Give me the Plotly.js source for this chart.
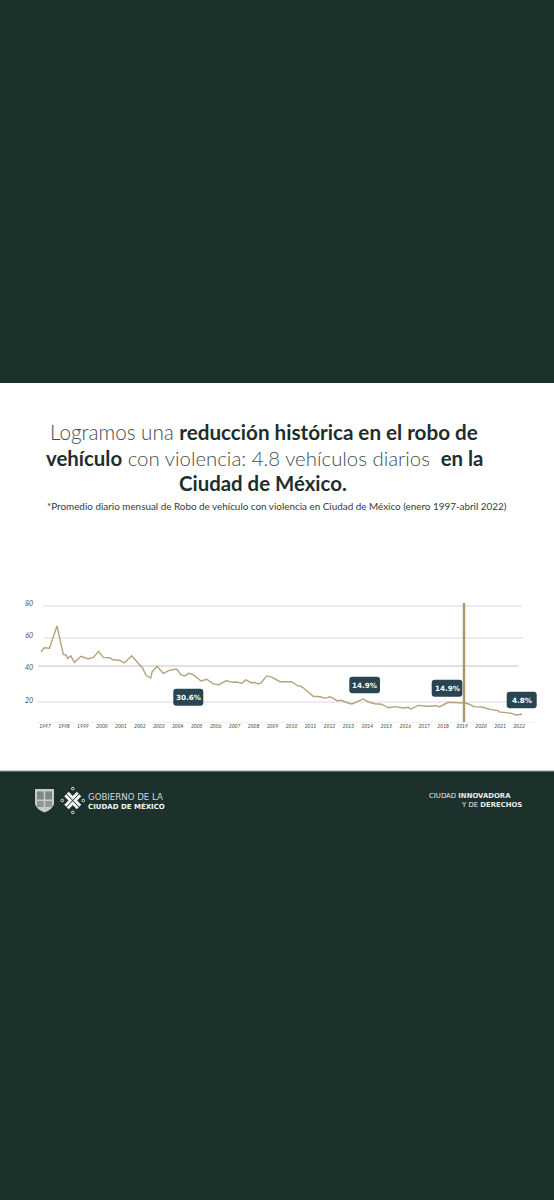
<!DOCTYPE html>
<html>
<head>
<meta charset="utf-8">
<script src="https://cdn.plot.ly/plotly-3.0.1.min.js"></script>
<style>html,body{margin:0;padding:0;background:#1c302c}</style>
</head>
<body>
<div id="chart" style="width:554px;height:1200px"></div>
<script>
// Data
const fecha = [1997.00,1997.16,1997.44,1997.84,1998.17,1998.31,1998.40,1998.56,1998.75,1999.10,1999.48,1999.75,2000.03,2000.27,2000.62,2000.76,2001.11,2001.37,2001.76,2002.34,2002.51,2002.76,2002.83,2003.09,2003.42,2003.73,2004.12,2004.36,2004.56,2004.73,2004.99,2005.40,2005.70,2006.04,2006.34,2006.71,2007.09,2007.27,2007.54,2007.75,2008.06,2008.20,2008.35,2008.53,2008.85,2009.11,2009.55,2010.16,2010.45,2010.60,2010.77,2011.29,2011.65,2011.91,2012.17,2012.55,2012.75,2013.22,2013.36,2013.92,2014.18,2014.53,2014.88,2015.23,2015.58,2016.02,2016.28,2016.41,2016.81,2017.25,2017.77,2017.91,2018.38,2018.82,2019.20,2019.43,2019.73,2020.13,2020.57,2021.00,2021.04,2021.71,2021.93,2022.25];
const promedio = [51.4,53.9,53.6,67.5,49.8,49.4,47.3,48.8,44.8,48.6,46.9,47.9,51.7,47.9,47.7,46.4,46.1,44.4,48.9,41.1,36.7,35.0,38.8,42.3,37.9,39.8,40.6,36.9,36.3,37.9,37.1,33.1,34.2,31.3,30.8,33.3,32.3,32.5,31.7,33.8,31.9,32.3,31.4,31.7,36.3,35.6,32.7,32.7,30.2,30.0,28.9,23.6,23.3,22.3,23.3,20.8,21.1,18.9,18.9,21.9,20.0,18.9,18.6,16.4,17.1,16.3,16.7,15.6,17.9,17.3,17.7,16.9,19.8,19.8,19.4,18.9,17.1,16.9,15.4,14.6,13.8,12.9,11.9,12.3];
const anios = ["1997","1998","1999","2000","2001","2002","2003","2004","2005","2006","2007","2008","2009","2010","2011","2012","2013","2014","2015","2016","2017","2018","2019","2020","2021","2022"];
const etiquetasY = ["80","60","40","20"];
const etiquetasPct = ["30.6%","14.9%","14.9%","4.8%"];

// Layout helpers (page pixels to Plotly coordinates)
const W = 554, H = 1200;
const px = x => x / W, py = y => 1 - y / H;
const tOf = x => 1997 + (x - 41) / 19.05;
const vOf = y => 20 + (702 - y) / 1.6;
const rrect = (x0, y0, x1, y1, r) =>
  `M${px(x0 + r)},${py(y0)} L${px(x1 - r)},${py(y0)} Q${px(x1)},${py(y0)} ${px(x1)},${py(y0 + r)} ` +
  `L${px(x1)},${py(y1 - r)} Q${px(x1)},${py(y1)} ${px(x1 - r)},${py(y1)} ` +
  `L${px(x0 + r)},${py(y1)} Q${px(x0)},${py(y1)} ${px(x0)},${py(y1 - r)} ` +
  `L${px(x0)},${py(y0 + r)} Q${px(x0)},${py(y0)} ${px(x0 + r)},${py(y0)} Z`;
const lineSeg = (a, b) => `M${px(a[0])},${py(a[1])} L${px(b[0])},${py(b[1])}`;
const paperShape = (path, fill, lineColor, width, layer) => ({
  type: 'path', xref: 'paper', yref: 'paper', path, fillcolor: fill || 'rgba(0,0,0,0)',
  line: { color: lineColor || 'rgba(0,0,0,0)', width: width || 0 }, layer: layer || 'above'
});

const TOP = 595, BOTTOM = 722, LEFT = 34, RIGHT = 540;
const DARK = '#1c302c';
const shapes = [];
// white panel
shapes.push({ type: 'rect', xref: 'paper', yref: 'paper', x0: 0, x1: 1, y0: py(771), y1: py(383), fillcolor: '#ffffff', line: { width: 0 }, layer: 'below' });
shapes.push({ type: 'rect', xref: 'paper', yref: 'paper', x0: 0, x1: 1, y0: py(771.5), y1: py(770.5), fillcolor: '#9aa3a1', line: { width: 0 }, layer: 'below' });
// gridlines
[[606, 43, 522, '#e6d3de'], [638, 44, 523, '#e6d3de'], [666, 38, 518, '#c8c0cc'], [702, 37, 510, '#e6d3de']].forEach(g => {
  shapes.push({ type: 'line', xref: 'paper', yref: 'paper', x0: px(g[1]), x1: px(g[2]), y0: py(g[0]), y1: py(g[0]), line: { color: g[3], width: 1 }, layer: 'below' });
});
// baseline
shapes.push({ type: 'line', xref: 'paper', yref: 'paper', x0: px(36), x1: px(536), y0: py(722.5), y1: py(722.5), line: { color: '#f1f1f1', width: 1 }, layer: 'below' });
// 2019 marker
shapes.push({ type: 'line', xref: 'x', yref: 'y', x0: tOf(464), x1: tOf(464), y0: vOf(603), y1: vOf(722.5), line: { color: '#ab9465', width: 2.4 }, layer: 'above' });

// label boxes
const cajas = [[173.3, 688.7, 203.3, 705.7], [349.3, 676.7, 380, 693.3], [431.7, 679.7, 462.3, 696.7], [506.7, 691.7, 536.7, 708.3]];
cajas.forEach(c => shapes.push(paperShape(rrect(c[0], c[1], c[2], c[3], 3), '#2a4552')));

// shield
shapes.push(paperShape(`M${px(35)},${py(789)} L${px(54)},${py(789)} L${px(54)},${py(804)} Q${px(53)},${py(809)} ${px(44.5)},${py(812.5)} Q${px(36)},${py(809)} ${px(35)},${py(804)} Z`, '#c6cbc9'));
shapes.push(paperShape(rrect(37, 791.5, 43.7, 799.5, 0.5), '#7d8886'));
shapes.push(paperShape(rrect(45.3, 791.5, 52, 799.5, 0.5), '#7d8886'));
shapes.push(paperShape(rrect(37, 801, 43.7, 807, 0.5), '#8e9896'));
shapes.push(paperShape(rrect(45.3, 801, 52, 807, 0.5), '#8e9896'));

// knot emblem
const k = (a, b, w, c) => shapes.push(paperShape(lineSeg(a, b), null, c, w));
k([66.5, 794], [79, 807], 6.2, '#f2f4f3');
k([79, 794], [66.5, 807], 6.2, '#f2f4f3');
k([66.5, 794], [79, 807], 1, DARK);
k([79, 794], [66.5, 807], 1, DARK);
[[72.8, 788.6], [72.8, 812.4], [62.3, 800.5], [83.3, 800.5]].forEach(d =>
  shapes.push({ type: 'circle', xref: 'paper', yref: 'paper', x0: px(d[0] - 1.3), x1: px(d[0] + 1.3), y0: py(d[1] + 1.3), y1: py(d[1] - 1.3), fillcolor: DARK, line: { color: '#f2f4f3', width: 0.9 } }));

// text
const txt = (x, y, text, size, color, anchor, family) => ({
  xref: 'paper', yref: 'paper', x: px(x), y: py(y), text, showarrow: false, xanchor: anchor || 'left', yanchor: 'middle',
  align: anchor || 'left', font: { family: family || 'Lato, sans-serif', size, color }
});
const TITLE = '#1d2f2d';
const lightT = t => `<span style="color:#444e4d;font-weight:300">${t}</span>`;
const FOOT = '"DejaVu Sans", sans-serif';
const annotations = [
  txt(263.5, 431.5, lightT('Logramos una ') + '<b>reducción histórica en el robo de</b>', 20.65, TITLE, 'center'),
  txt(264, 457.5, '<b>vehículo</b>' + lightT(' con violencia: 4.8 vehículos diarios ') + ' <b>en la</b>', 20.4, TITLE, 'center'),
  txt(263, 483.5, '<b>Ciudad de México.</b>', 20.4, TITLE, 'center'),
  txt(277, 505.5, '*Promedio diario mensual de Robo de vehículo con violencia en Ciudad de México (enero 1997-abril 2022)', 9.9, '#2f3d3b', 'center'),
  txt(85.5, 797, 'GOBIERNO DE LA', 8.6, '#d5dad9', 'left', FOOT),
  txt(85.5, 806.6, '<b>CIUDAD DE MÉXICO</b>', 7, '#f2f4f3', 'left', FOOT),
  txt(426.5, 795.8, 'CIUDAD <b>INNOVADORA</b>', 6.9, '#e8ecea', 'left', FOOT),
  txt(458.5, 805, 'Y DE <b>DERECHOS</b>', 6.9, '#e8ecea', 'left', FOOT)
];
cajas.forEach((c, i) => annotations.push(txt((c[0] + c[2]) / 2, (c[1] + c[3]) / 2, '<b>' + etiquetasPct[i] + '</b>', 7.2, '#ffffff', 'center', FOOT)));

const trace = {
  x: fecha, y: promedio, type: 'scatter', mode: 'lines',
  line: { color: '#b3a47e', width: 1.4 }, hoverinfo: 'skip', showlegend: false
};

const layout = {
  width: W, height: H, margin: { l: 0, r: 0, t: 0, b: 0 },
  paper_bgcolor: DARK, plot_bgcolor: 'rgba(0,0,0,0)', showlegend: false,
  xaxis: {
    domain: [px(LEFT), px(RIGHT)], range: [tOf(LEFT), tOf(RIGHT)], showgrid: false, zeroline: false, showline: false, ticks: '',
    tickmode: 'array', tickvals: anios.map((a, i) => tOf(45 + i * 18.96)), ticktext: anios, tickangle: 0,
    tickfont: { family: 'Lato, sans-serif', size: 5, color: '#444', style: 'italic' }, anchor: 'y'
  },
  yaxis: {
    domain: [py(BOTTOM), py(TOP)], range: [vOf(BOTTOM), vOf(TOP)], showgrid: false, zeroline: false, showline: false, ticks: '',
    tickmode: 'array', tickvals: [604, 636, 668, 700.7].map(vOf), ticktext: etiquetasY,
    tickfont: { family: 'Lato, sans-serif', size: 7, color: '#555', style: 'italic' }, anchor: 'x'
  },
  shapes, annotations
};
Plotly.newPlot('chart', [trace], layout, { displayModeBar: false, staticPlot: true });
</script>
</body>
</html>
